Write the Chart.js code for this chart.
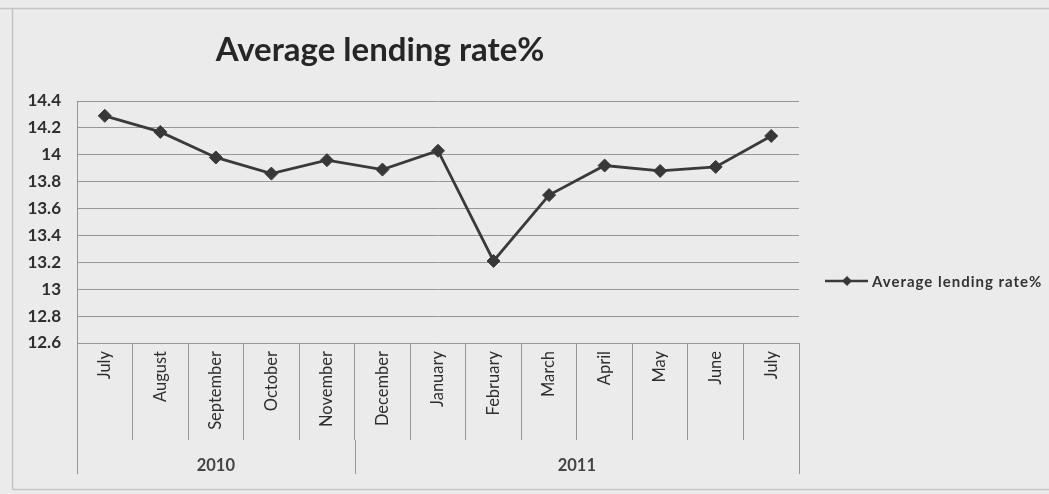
<!DOCTYPE html>
<html>
<head>
<meta charset="utf-8">
<title>Average lending rate%</title>
<script src="https://cdn.jsdelivr.net/npm/chart.js@4/dist/chart.umd.min.js"></script>
<style>
  html, body { margin: 0; padding: 0; background: #ebebeb; }
  #wrap { width: 1049px; height: 494px; position: relative; }
</style>
</head>
<body>
<div id="wrap"><canvas id="c" width="1049" height="494"></canvas></div>
<script>
// Monthly average lending rate, July 2010 - July 2011
const months = ['July', 'August', 'September', 'October', 'November', 'December',
                'January', 'February', 'March', 'April', 'May', 'June', 'July'];
const lendingRate = [14.29, 14.17, 13.98, 13.86, 13.96, 13.89,
                     14.03, 13.21, 13.70, 13.92, 13.88, 13.91, 14.14];
const seriesName = 'Average lending rate%';
const yTicks = [12.6, 12.8, 13, 13.2, 13.4, 13.6, 13.8, 14, 14.2, 14.4];
// Year groups on the second axis row: label and how many months it covers
const yearLabels = ['2010', '2011'];
const yearSpans = [5, 8];

const FONT = 'Lato, "Open Sans", sans-serif';
const GRID = '#969696';
const INK = '#2e2e2e';

const decor = {
  id: 'decor',
  beforeDraw(chart) {
    const { ctx, width, height } = chart;
    ctx.save();
    ctx.fillStyle = '#ebebeb';
    ctx.fillRect(0, 0, width, height);
    // outer frame
    ctx.strokeStyle = '#c4c4c4';
    ctx.lineWidth = 1.5;
    ctx.beginPath();
    ctx.moveTo(0, 8.5); ctx.lineTo(width, 8.5);
    ctx.moveTo(12.5, 8.5); ctx.lineTo(12.5, 489.5);
    ctx.moveTo(12.5, 489.5); ctx.lineTo(width, 489.5);
    ctx.stroke();
    ctx.restore();
  },
  afterDraw(chart) {
    const { ctx } = chart;
    const x = chart.scales.x;
    const ds = chart.data.datasets[0];
    ctx.save();

    // title
    ctx.fillStyle = '#262626';
    ctx.font = 'bold 33px ' + FONT;
    ctx.textAlign = 'center';
    ctx.textBaseline = 'alphabetic';
    ctx.fillText(seriesName, 380, 61);

    // year row of the category axis
    const half = (x.getPixelForValue(1) - x.getPixelForValue(0)) / 2;
    const rowTop = 440, rowBottom = 474;
    let start = 0;
    const edges = [x.getPixelForValue(0) - half];
    yearSpans.forEach(n => { start += n; edges.push(x.getPixelForValue(start - 1) + half); });
    ctx.strokeStyle = GRID;
    ctx.lineWidth = 1;
    ctx.beginPath();
    edges.forEach(e => { const px = Math.round(e) + 0.5; ctx.moveTo(px, rowTop); ctx.lineTo(px, rowBottom); });
    ctx.stroke();
    ctx.fillStyle = '#444';
    ctx.font = 'bold 16.5px ' + FONT;
    ctx.textAlign = 'center';
    ctx.textBaseline = 'middle';
    yearLabels.forEach((t, i) => ctx.fillText(t, (edges[i] + edges[i + 1]) / 2, 466));

    // legend
    const ly = 281;
    ctx.strokeStyle = ds.borderColor;
    ctx.lineWidth = 2.5;
    ctx.beginPath(); ctx.moveTo(825, ly); ctx.lineTo(868, ly); ctx.stroke();
    ctx.fillStyle = ds.pointBackgroundColor;
    ctx.beginPath();
    ctx.moveTo(847, ly - 5); ctx.lineTo(852, ly); ctx.lineTo(847, ly + 5); ctx.lineTo(842, ly);
    ctx.closePath(); ctx.fill();
    ctx.fillStyle = '#333';
    ctx.font = 'bold 15px ' + FONT;
    ctx.letterSpacing = '1px';
    ctx.textAlign = 'left';
    ctx.fillText(ds.label, 872, ly + 1);
    ctx.restore();
  }
};

new Chart(document.getElementById('c'), {
  type: 'line',
  data: {
    labels: months,
    datasets: [{
      label: seriesName,
      data: lendingRate,
      borderColor: '#3a3a3a',
      borderWidth: 2.8,
      pointStyle: 'rectRot',
      pointRadius: 6.5,
      pointHoverRadius: 6.5,
      pointBackgroundColor: '#383838',
      pointBorderColor: '#383838',
      pointBorderWidth: 1,
      tension: 0,
      clip: false
    }]
  },
  options: {
    responsive: false,
    animation: false,
    events: [],
    layout: { padding: { left: 0, right: 250, top: 101, bottom: 0 } },
    plugins: { legend: { display: false }, title: { display: false }, tooltip: { enabled: false } },
    scales: {
      x: {
        type: 'category',
        offset: true,
        afterFit(scale) { scale.height = 151; },
        border: { display: true, color: GRID, width: 1 },
        grid: { offset: true, drawOnChartArea: false, drawTicks: true, tickLength: 97, color: GRID, lineWidth: 1 },
        ticks: {
          autoSkip: false, minRotation: 90, maxRotation: 90, padding: -89,
          color: INK, font: { family: FONT, size: 16.5 }
        }
      },
      y: {
        min: 12.6, max: 14.4,
        afterFit(scale) { scale.width = 77; },
        afterBuildTicks(scale) { scale.ticks = yTicks.map(v => ({ value: v })); },
        border: { display: true, color: GRID, width: 1 },
        grid: { drawTicks: false, color: GRID, lineWidth: 1 },
        ticks: {
          padding: 16, color: INK, font: { family: FONT, size: 17, weight: 'bold' },
          callback: v => String(Number(v.toFixed(1)))
        }
      }
    }
  },
  plugins: [decor]
});
</script>
</body>
</html>
